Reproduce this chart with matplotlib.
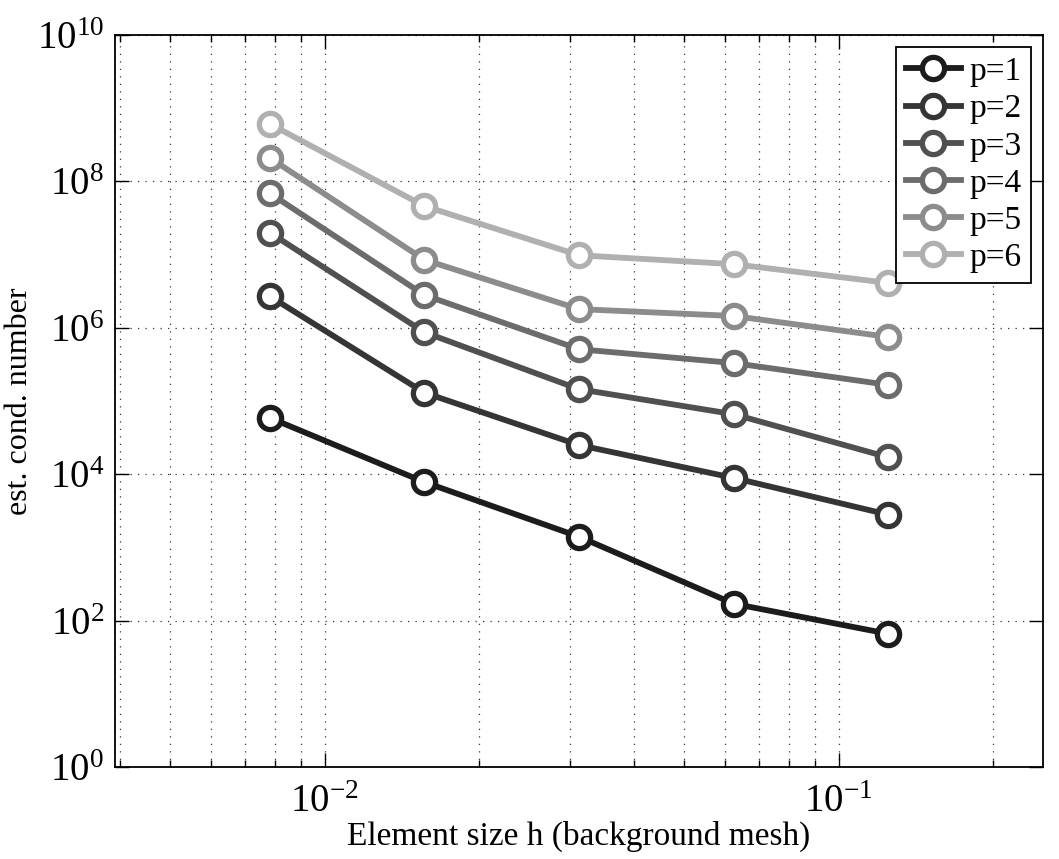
import numpy as np
import matplotlib
matplotlib.use("Agg")
import matplotlib.pyplot as plt
from matplotlib.ticker import LogLocator, NullFormatter

plt.rcParams['font.family'] = ['Liberation Serif', 'DejaVu Serif']
plt.rcParams['mathtext.fontset'] = 'stix'

# element sizes h = 1/128 ... 1/8
h = [1/128, 1/64, 1/32, 1/16, 1/8]

# estimated condition numbers
cond_p1 = [5.9e4, 7.8e3, 1.4e3, 1.7e2, 66]
cond_p2 = [2.7e6, 1.3e5, 2.5e4, 8.9e3, 2.8e3]
cond_p3 = [2.0e7, 8.7e5, 1.45e5, 6.6e4, 1.7e4]
cond_p4 = [6.9e7, 2.8e6, 5.1e5, 3.3e5, 1.66e5]
cond_p5 = [2.1e8, 8.5e6, 1.8e6, 1.45e6, 7.5e5]
cond_p6 = [6.1e8, 4.6e7, 9.8e6, 7.4e6, 4.1e6]

series = [cond_p1, cond_p2, cond_p3, cond_p4, cond_p5, cond_p6]
labels = ["p=1", "p=2", "p=3", "p=4", "p=5", "p=6"]
colors = ["#1c1c1c", "#353535", "#505050", "#6c6c6c", "#8c8c8c", "#b0b0b0"]

fig = plt.figure(figsize=(10.59, 8.59), dpi=100)
ax = fig.add_axes([115/1059, 1 - 767/859, (1043-115)/1059, (767-35)/859])

for vals, lab, col in zip(series, labels, colors):
    ax.loglog(h, vals, '-o', color=col, lw=4.2, markersize=16,
              markeredgewidth=3.8, markerfacecolor='white',
              markeredgecolor=col, label=lab)

ax.set_xlim(1/256, 1/4)
ax.set_ylim(1, 1e10)

ax.set_yticks([1e0, 1e2, 1e4, 1e6, 1e8, 1e10])
ax.yaxis.set_minor_locator(plt.NullLocator())
ax.xaxis.set_minor_locator(LogLocator(base=10, subs=np.arange(2, 10), numticks=20))
ax.xaxis.set_minor_formatter(NullFormatter())

ax.grid(True, which='major', linestyle=(0, (1, 5)), color='#333333', lw=0.9)
ax.grid(True, which='minor', axis='x', linestyle=(0, (1, 5)), color='#333333', lw=0.9)

ax.tick_params(which='both', direction='in', top=True, right=True,
               labelsize=28, width=1)
ax.tick_params(which='major', length=10)
ax.tick_params(axis='x', which='major', pad=12)
ax.tick_params(axis='y', which='major', pad=8)
ax.tick_params(which='minor', length=5)
for sp in ax.spines.values():
    sp.set_linewidth(1.3)

ax.set_xlabel("Element size h (background mesh)", fontsize=24, labelpad=0)
ax.set_ylabel("est. cond. number", fontsize=23, labelpad=2)

leg = ax.legend(loc='upper right', fontsize=24, frameon=True, fancybox=False,
                edgecolor='black', framealpha=1, handlelength=1.65,
                handletextpad=0.25, borderpad=0.3, labelspacing=0.2,
                borderaxespad=0.35)
leg.get_frame().set_linewidth(1.3)

fig.savefig("out.png", dpi=100)
